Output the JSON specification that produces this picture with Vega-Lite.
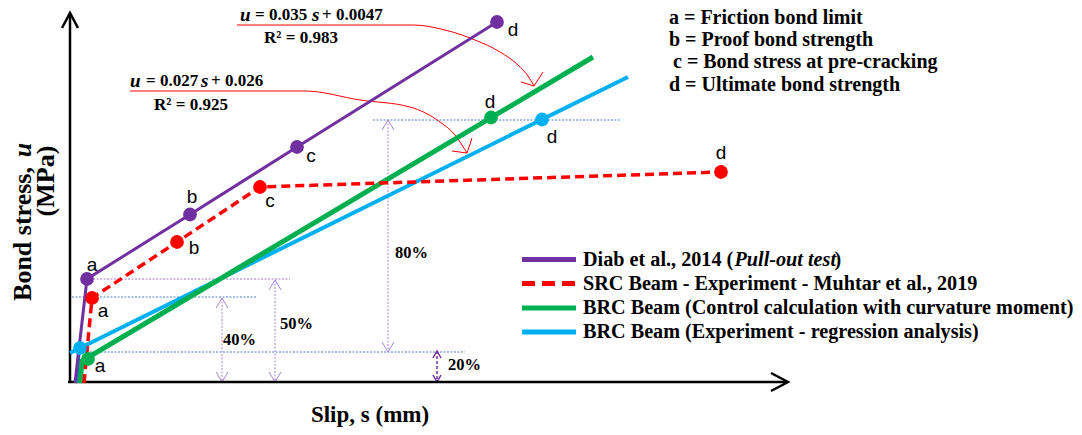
{
  "$schema": "https://vega.github.io/schema/vega-lite/v6.json",
  "width": 1082,
  "height": 435,
  "padding": 0,
  "autosize": "none",
  "background": "white",
  "config": {"view": {"stroke": null}},
  "encoding": {
    "x": {"field": "x", "type": "quantitative", "scale": {"domain": [-0.7, 10.12], "nice": false, "zero": false}, "axis": null},
    "y": {"field": "y", "type": "quantitative", "scale": {"domain": [-1.06, 7.64], "nice": false, "zero": false}, "axis": null}
  },
  "datasets": {
    "guides": [
      {"g": "hp1", "k": "hp", "o": 1, "x": 0.23, "y": 2.06}, {"g": "hp1", "k": "hp", "o": 2, "x": 2.20, "y": 2.06},
      {"g": "hb1", "k": "hb", "o": 1, "x": 0.02, "y": 1.70}, {"g": "hb1", "k": "hb", "o": 2, "x": 1.87, "y": 1.70},
      {"g": "hb2", "k": "hb", "o": 1, "x": 0.20, "y": 0.60}, {"g": "hb2", "k": "hb", "o": 2, "x": 3.95, "y": 0.60},
      {"g": "hb3", "k": "hb", "o": 1, "x": 3.03, "y": 5.24}, {"g": "hb3", "k": "hb", "o": 2, "x": 5.50, "y": 5.24},
      {"g": "v40", "k": "v", "o": 1, "x": 1.52, "y": 1.68}, {"g": "v40", "k": "v", "o": 2, "x": 1.52, "y": 0},
      {"g": "v50", "k": "v", "o": 1, "x": 2.05, "y": 2.04}, {"g": "v50", "k": "v", "o": 2, "x": 2.05, "y": 0},
      {"g": "v80", "k": "v", "o": 1, "x": 3.18, "y": 5.24}, {"g": "v80", "k": "v", "o": 2, "x": 3.18, "y": 0.60},
      {"g": "v20", "k": "v20", "o": 1, "x": 3.67, "y": 0.62}, {"g": "v20", "k": "v20", "o": 2, "x": 3.67, "y": 0},
      {"g": "h40t", "k": "vh", "o": 1, "x": 1.46, "y": 1.48}, {"g": "h40t", "k": "vh", "o": 2, "x": 1.52, "y": 1.68}, {"g": "h40t", "k": "vh", "o": 3, "x": 1.58, "y": 1.48},
      {"g": "h40b", "k": "vh", "o": 1, "x": 1.46, "y": 0.2}, {"g": "h40b", "k": "vh", "o": 2, "x": 1.52, "y": 0}, {"g": "h40b", "k": "vh", "o": 3, "x": 1.58, "y": 0.2},
      {"g": "h50t", "k": "vh", "o": 1, "x": 1.99, "y": 1.84}, {"g": "h50t", "k": "vh", "o": 2, "x": 2.05, "y": 2.04}, {"g": "h50t", "k": "vh", "o": 3, "x": 2.11, "y": 1.84},
      {"g": "h50b", "k": "vh", "o": 1, "x": 1.99, "y": 0.2}, {"g": "h50b", "k": "vh", "o": 2, "x": 2.05, "y": 0}, {"g": "h50b", "k": "vh", "o": 3, "x": 2.11, "y": 0.2},
      {"g": "h80t", "k": "vh", "o": 1, "x": 3.12, "y": 5.04}, {"g": "h80t", "k": "vh", "o": 2, "x": 3.18, "y": 5.24}, {"g": "h80t", "k": "vh", "o": 3, "x": 3.24, "y": 5.04},
      {"g": "h80b", "k": "vh", "o": 1, "x": 3.12, "y": 0.80}, {"g": "h80b", "k": "vh", "o": 2, "x": 3.18, "y": 0.60}, {"g": "h80b", "k": "vh", "o": 3, "x": 3.24, "y": 0.80},
      {"g": "h20t", "k": "vh20", "o": 1, "x": 3.63, "y": 0.48}, {"g": "h20t", "k": "vh20", "o": 2, "x": 3.67, "y": 0.62}, {"g": "h20t", "k": "vh20", "o": 3, "x": 3.71, "y": 0.48},
      {"g": "h20b", "k": "vh20", "o": 1, "x": 3.63, "y": 0.14}, {"g": "h20b", "k": "vh20", "o": 2, "x": 3.67, "y": 0}, {"g": "h20b", "k": "vh20", "o": 3, "x": 3.71, "y": 0.14}
    ],
    "axes": [
      {"g": "ax", "o": 1, "x": -0.02, "y": 0}, {"g": "ax", "o": 2, "x": 7.17, "y": 0},
      {"g": "ay", "o": 1, "x": 0, "y": -0.02}, {"g": "ay", "o": 2, "x": 0, "y": 7.37},
      {"g": "axh", "o": 1, "x": 7.01, "y": 0.18}, {"g": "axh", "o": 2, "x": 7.18, "y": 0}, {"g": "axh", "o": 3, "x": 7.01, "y": -0.18},
      {"g": "ayh", "o": 1, "x": -0.08, "y": 7.08}, {"g": "ayh", "o": 2, "x": 0, "y": 7.38}, {"g": "ayh", "o": 3, "x": 0.08, "y": 7.08}
    ],
    "notes": [
      {"g": "n1", "o": 1, "x": 1.67, "y": 7.14}, {"g": "n1", "o": 2, "x": 3.43, "y": 7.14}, {"g": "n1", "o": 3, "x": 3.75, "y": 7.04},
      {"g": "n1", "o": 4, "x": 4.05, "y": 6.84}, {"g": "n1", "o": 5, "x": 4.30, "y": 6.60}, {"g": "n1", "o": 6, "x": 4.48, "y": 6.34},
      {"g": "n1", "o": 7, "x": 4.58, "y": 6.12}, {"g": "n1", "o": 8, "x": 4.64, "y": 5.92},
      {"g": "n2", "o": 1, "x": 0.60, "y": 5.82}, {"g": "n2", "o": 2, "x": 2.35, "y": 5.82}, {"g": "n2", "o": 3, "x": 2.90, "y": 5.64},
      {"g": "n2", "o": 4, "x": 3.40, "y": 5.50}, {"g": "n2", "o": 5, "x": 3.70, "y": 5.20}, {"g": "n2", "o": 6, "x": 3.85, "y": 4.94},
      {"g": "n2", "o": 7, "x": 3.92, "y": 4.74}, {"g": "n2", "o": 8, "x": 3.97, "y": 4.58}
    ],
    "noteheads": [
      {"g": "n1h", "o": 1, "x": 4.51, "y": 6.00}, {"g": "n1h", "o": 2, "x": 4.64, "y": 5.92}, {"g": "n1h", "o": 3, "x": 4.73, "y": 6.20},
      {"g": "n2h", "o": 1, "x": 3.82, "y": 4.62}, {"g": "n2h", "o": 2, "x": 3.97, "y": 4.58}, {"g": "n2h", "o": 3, "x": 4.02, "y": 4.88}
    ],
    "curves": [
      {"s": "P", "o": 1, "x": 0.05, "y": -0.02}, {"s": "P", "o": 2, "x": 0.17, "y": 2.06}, {"s": "P", "o": 3, "x": 1.20, "y": 3.35}, {"s": "P", "o": 4, "x": 2.27, "y": 4.70}, {"s": "P", "o": 5, "x": 4.27, "y": 7.20},
      {"s": "R", "o": 1, "x": 0.14, "y": -0.02}, {"s": "R", "o": 2, "x": 0.22, "y": 1.68}, {"s": "R", "o": 3, "x": 1.07, "y": 2.80}, {"s": "R", "o": 4, "x": 1.90, "y": 3.90}, {"s": "R", "o": 5, "x": 6.51, "y": 4.20},
      {"s": "G", "o": 1, "x": 0.10, "y": -0.02}, {"s": "G", "o": 2, "x": 0.12, "y": 0.42}, {"s": "G", "o": 3, "x": 5.23, "y": 6.50},
      {"s": "B", "o": 1, "x": 0.00, "y": 0.58}, {"s": "B", "o": 2, "x": 5.58, "y": 6.10},
      {"s": "Bv", "o": 1, "x": 0.07, "y": -0.02}, {"s": "Bv", "o": 2, "x": 0.09, "y": 0.66}
    ],
    "pts": [
      {"s": "P", "x": 0.17, "y": 2.06}, {"s": "P", "x": 1.20, "y": 3.35}, {"s": "P", "x": 2.27, "y": 4.70}, {"s": "P", "x": 4.27, "y": 7.20},
      {"s": "R", "x": 0.22, "y": 1.68}, {"s": "R", "x": 1.07, "y": 2.80}, {"s": "R", "x": 1.90, "y": 3.90}, {"s": "R", "x": 6.51, "y": 4.20},
      {"s": "G", "x": 0.18, "y": 0.46}, {"s": "G", "x": 4.21, "y": 5.29},
      {"s": "B", "x": 0.10, "y": 0.68}, {"s": "B", "x": 4.72, "y": 5.25}
    ],
    "legendlines": [
      {"s": "P", "o": 1, "x": 4.52, "y": 2.45}, {"s": "P", "o": 2, "x": 5.06, "y": 2.45},
      {"s": "R", "o": 1, "x": 4.52, "y": 1.97}, {"s": "R", "o": 2, "x": 5.06, "y": 1.97},
      {"s": "G", "o": 1, "x": 4.52, "y": 1.48}, {"s": "G", "o": 2, "x": 5.06, "y": 1.48},
      {"s": "B", "o": 1, "x": 4.52, "y": 1.00}, {"s": "B", "o": 2, "x": 5.06, "y": 1.00}
    ],
    "texts": [
      {"k": "lab", "t": "a", "x": 0.22, "y": 2.34}, {"k": "lab", "t": "b", "x": 1.22, "y": 3.70}, {"k": "lab", "t": "c", "x": 2.41, "y": 4.52}, {"k": "lab", "t": "d", "x": 4.43, "y": 7.05},
      {"k": "lab", "t": "a", "x": 0.33, "y": 1.42}, {"k": "lab", "t": "b", "x": 1.24, "y": 2.69}, {"k": "lab", "t": "c", "x": 2.00, "y": 3.63}, {"k": "lab", "t": "d", "x": 6.51, "y": 4.59},
      {"k": "lab", "t": "a", "x": 0.30, "y": 0.32}, {"k": "lab", "t": "d", "x": 4.20, "y": 5.61},
      {"k": "lab", "t": "d", "x": 4.82, "y": 4.90},
      {"k": "eqi", "t": "u", "x": 1.70, "y": 7.34}, {"k": "eq", "t": "= 0.035", "x": 1.85, "y": 7.34}, {"k": "eqi", "t": "s", "x": 2.42, "y": 7.34}, {"k": "eq", "t": "+ 0.0047", "x": 2.52, "y": 7.34},
      {"k": "eqi", "t": "u", "x": 0.60, "y": 6.02}, {"k": "eq", "t": "= 0.027", "x": 0.76, "y": 6.02}, {"k": "eqi", "t": "s", "x": 1.31, "y": 6.02}, {"k": "eq", "t": "+ 0.026", "x": 1.41, "y": 6.02},
      {"k": "r2", "t": "R² = 0.983", "x": 2.31, "y": 6.88}, {"k": "r2", "t": "R² = 0.925", "x": 1.21, "y": 5.54},
      {"k": "key", "t": "a = Friction bond limit", "x": 5.99, "y": 7.28},
      {"k": "key", "t": "b = Proof bond strength", "x": 5.99, "y": 6.84},
      {"k": "key", "t": "c = Bond stress at pre-cracking", "x": 6.03, "y": 6.40},
      {"k": "key", "t": "d = Ultimate bond strength", "x": 5.99, "y": 5.94},
      {"k": "leg", "t": "Diab et al., 2014 (", "x": 5.13, "y": 2.45}, {"k": "legi", "t": "Pull-out test", "x": 6.645, "y": 2.45}, {"k": "leg", "t": ")", "x": 7.645, "y": 2.45},
      {"k": "leg", "t": "SRC Beam - Experiment - Muhtar et al., 2019", "x": 5.13, "y": 1.97},
      {"k": "leg", "t": "BRC Beam (Control calculation with curvature moment)", "x": 5.13, "y": 1.48},
      {"k": "leg", "t": "BRC Beam (Experiment - regression analysis)", "x": 5.13, "y": 1.00},
      {"k": "pct", "t": "40%", "x": 1.53, "y": 0.84}, {"k": "pct", "t": "50%", "x": 2.10, "y": 1.16},
      {"k": "pct", "t": "80%", "x": 3.25, "y": 2.58}, {"k": "pct", "t": "20%", "x": 3.78, "y": 0.34},
      {"k": "xt", "t": "Slip, s (mm)", "x": 3.00, "y": -0.66},
      {"k": "yt", "t": "Bond stress,", "x": -0.475, "y": 2.96}, {"k": "yti", "t": "u", "x": -0.475, "y": 4.64},
      {"k": "yt", "t": "(MPa)", "x": -0.24, "y": 4.02}
    ]
  },
  "layer": [
    {"data": {"name": "guides"}, "transform": [{"filter": "datum.k == 'hp'"}],
     "mark": {"type": "line", "stroke": "#9f72d6", "strokeWidth": 1, "strokeDash": [2, 1.5]},
     "encoding": {"detail": {"field": "g"}, "order": {"field": "o"}}},
    {"data": {"name": "guides"}, "transform": [{"filter": "datum.k == 'hb'"}],
     "mark": {"type": "line", "stroke": "#4f7fd0", "strokeWidth": 1, "strokeDash": [2, 1.5]},
     "encoding": {"detail": {"field": "g"}, "order": {"field": "o"}}},
    {"data": {"name": "guides"}, "transform": [{"filter": "datum.k == 'v'"}],
     "mark": {"type": "line", "stroke": "#a884d8", "strokeWidth": 1, "strokeDash": [2, 1.5]},
     "encoding": {"detail": {"field": "g"}, "order": {"field": "o"}}},
    {"data": {"name": "guides"}, "transform": [{"filter": "datum.k == 'vh'"}],
     "mark": {"type": "line", "stroke": "#a884d8", "strokeWidth": 1},
     "encoding": {"detail": {"field": "g"}, "order": {"field": "o"}}},
    {"data": {"name": "guides"}, "transform": [{"filter": "datum.k == 'v20'"}],
     "mark": {"type": "line", "stroke": "#7030a0", "strokeWidth": 1.5, "strokeDash": [3, 2]},
     "encoding": {"detail": {"field": "g"}, "order": {"field": "o"}}},
    {"data": {"name": "guides"}, "transform": [{"filter": "datum.k == 'vh20'"}],
     "mark": {"type": "line", "stroke": "#7030a0", "strokeWidth": 1.5},
     "encoding": {"detail": {"field": "g"}, "order": {"field": "o"}}},
    {"data": {"name": "notes"},
     "mark": {"type": "line", "stroke": "#ff0000", "strokeWidth": 1, "interpolate": "monotone"},
     "encoding": {"detail": {"field": "g"}, "order": {"field": "o"}}},
    {"data": {"name": "noteheads"},
     "mark": {"type": "line", "stroke": "#ff0000", "strokeWidth": 1},
     "encoding": {"detail": {"field": "g"}, "order": {"field": "o"}}},
    {"data": {"name": "axes"},
     "mark": {"type": "line", "stroke": "#000000", "strokeWidth": 2.5},
     "encoding": {"detail": {"field": "g"}, "order": {"field": "o"}}},
    {"data": {"name": "curves"}, "transform": [{"filter": "datum.s == 'Bv'"}],
     "mark": {"type": "line", "stroke": "#1f6fc0", "strokeWidth": 3.5},
     "encoding": {"order": {"field": "o"}}},
    {"data": {"name": "curves"}, "transform": [{"filter": "datum.s == 'B'"}],
     "mark": {"type": "line", "stroke": "#00b0f0", "strokeWidth": 4},
     "encoding": {"order": {"field": "o"}}},
    {"data": {"name": "curves"}, "transform": [{"filter": "datum.s == 'G'"}],
     "mark": {"type": "line", "stroke": "#00b050", "strokeWidth": 5},
     "encoding": {"order": {"field": "o"}}},
    {"data": {"name": "curves"}, "transform": [{"filter": "datum.s == 'R'"}],
     "mark": {"type": "line", "stroke": "#ff0000", "strokeWidth": 3.5, "strokeDash": [9, 5]},
     "encoding": {"order": {"field": "o"}}},
    {"data": {"name": "curves"}, "transform": [{"filter": "datum.s == 'P'"}],
     "mark": {"type": "line", "stroke": "#7030a0", "strokeWidth": 3},
     "encoding": {"order": {"field": "o"}}},
    {"data": {"name": "pts"},
     "mark": {"type": "point", "filled": true, "shape": "circle", "size": 190, "opacity": 1},
     "encoding": {"color": {"field": "s", "type": "nominal", "scale": {"domain": ["P", "R", "G", "B"], "range": ["#7030a0", "#ff0000", "#00b050", "#00b0f0"]}, "legend": null}}},
    {"data": {"name": "legendlines"}, "transform": [{"filter": "datum.s != 'R'"}],
     "mark": {"type": "line", "strokeWidth": 5},
     "encoding": {"detail": {"field": "s"}, "order": {"field": "o"}, "color": {"field": "s", "type": "nominal", "scale": {"domain": ["P", "R", "G", "B"], "range": ["#7030a0", "#ff0000", "#00b050", "#00b0f0"]}, "legend": null}}},
    {"data": {"name": "legendlines"}, "transform": [{"filter": "datum.s == 'R'"}],
     "mark": {"type": "line", "strokeWidth": 5, "stroke": "#ff0000", "strokeDash": [13, 7]},
     "encoding": {"order": {"field": "o"}}},
    {"data": {"name": "texts"}, "transform": [{"filter": "datum.k == 'lab'"}],
     "mark": {"type": "text", "font": "Liberation Sans", "fontSize": 19, "align": "center", "baseline": "middle", "color": "#000000"},
     "encoding": {"text": {"field": "t"}}},
    {"data": {"name": "texts"}, "transform": [{"filter": "datum.k == 'eq'"}],
     "mark": {"type": "text", "font": "Liberation Serif", "fontWeight": "bold", "fontSize": 17, "align": "left", "baseline": "middle", "color": "#000000"},
     "encoding": {"text": {"field": "t"}}},
    {"data": {"name": "texts"}, "transform": [{"filter": "datum.k == 'eqi'"}],
     "mark": {"type": "text", "font": "Liberation Serif", "fontWeight": "bold", "fontStyle": "italic", "fontSize": 19, "align": "left", "baseline": "middle", "color": "#000000"},
     "encoding": {"text": {"field": "t"}}},
    {"data": {"name": "texts"}, "transform": [{"filter": "datum.k == 'r2'"}],
     "mark": {"type": "text", "font": "Liberation Serif", "fontWeight": "bold", "fontSize": 17, "align": "center", "baseline": "middle", "color": "#000000"},
     "encoding": {"text": {"field": "t"}}},
    {"data": {"name": "texts"}, "transform": [{"filter": "datum.k == 'key'"}],
     "mark": {"type": "text", "font": "Liberation Serif", "fontWeight": "bold", "fontSize": 20, "align": "left", "baseline": "middle", "color": "#000000"},
     "encoding": {"text": {"field": "t"}}},
    {"data": {"name": "texts"}, "transform": [{"filter": "datum.k == 'leg'"}],
     "mark": {"type": "text", "font": "Liberation Serif", "fontWeight": "bold", "fontSize": 20.2, "align": "left", "baseline": "middle", "color": "#000000"},
     "encoding": {"text": {"field": "t"}}},
    {"data": {"name": "texts"}, "transform": [{"filter": "datum.k == 'legi'"}],
     "mark": {"type": "text", "font": "Liberation Serif", "fontWeight": "bold", "fontStyle": "italic", "fontSize": 20.2, "align": "left", "baseline": "middle", "color": "#000000"},
     "encoding": {"text": {"field": "t"}}},
    {"data": {"name": "texts"}, "transform": [{"filter": "datum.k == 'pct'"}],
     "mark": {"type": "text", "font": "Liberation Serif", "fontWeight": "bold", "fontSize": 16.5, "align": "left", "baseline": "middle", "color": "#000000"},
     "encoding": {"text": {"field": "t"}}},
    {"data": {"name": "texts"}, "transform": [{"filter": "datum.k == 'xt'"}],
     "mark": {"type": "text", "font": "Liberation Serif", "fontWeight": "bold", "fontSize": 23, "align": "center", "baseline": "middle", "color": "#000000"},
     "encoding": {"text": {"field": "t"}}},
    {"data": {"name": "texts"}, "transform": [{"filter": "datum.k == 'yt'"}],
     "mark": {"type": "text", "font": "Liberation Serif", "fontWeight": "bold", "fontSize": 26, "align": "center", "baseline": "middle", "angle": 270, "color": "#000000"},
     "encoding": {"text": {"field": "t"}}},
    {"data": {"name": "texts"}, "transform": [{"filter": "datum.k == 'yti'"}],
     "mark": {"type": "text", "font": "Liberation Serif", "fontWeight": "bold", "fontStyle": "italic", "fontSize": 26, "align": "center", "baseline": "middle", "angle": 270, "color": "#000000"},
     "encoding": {"text": {"field": "t"}}}
  ]
}
